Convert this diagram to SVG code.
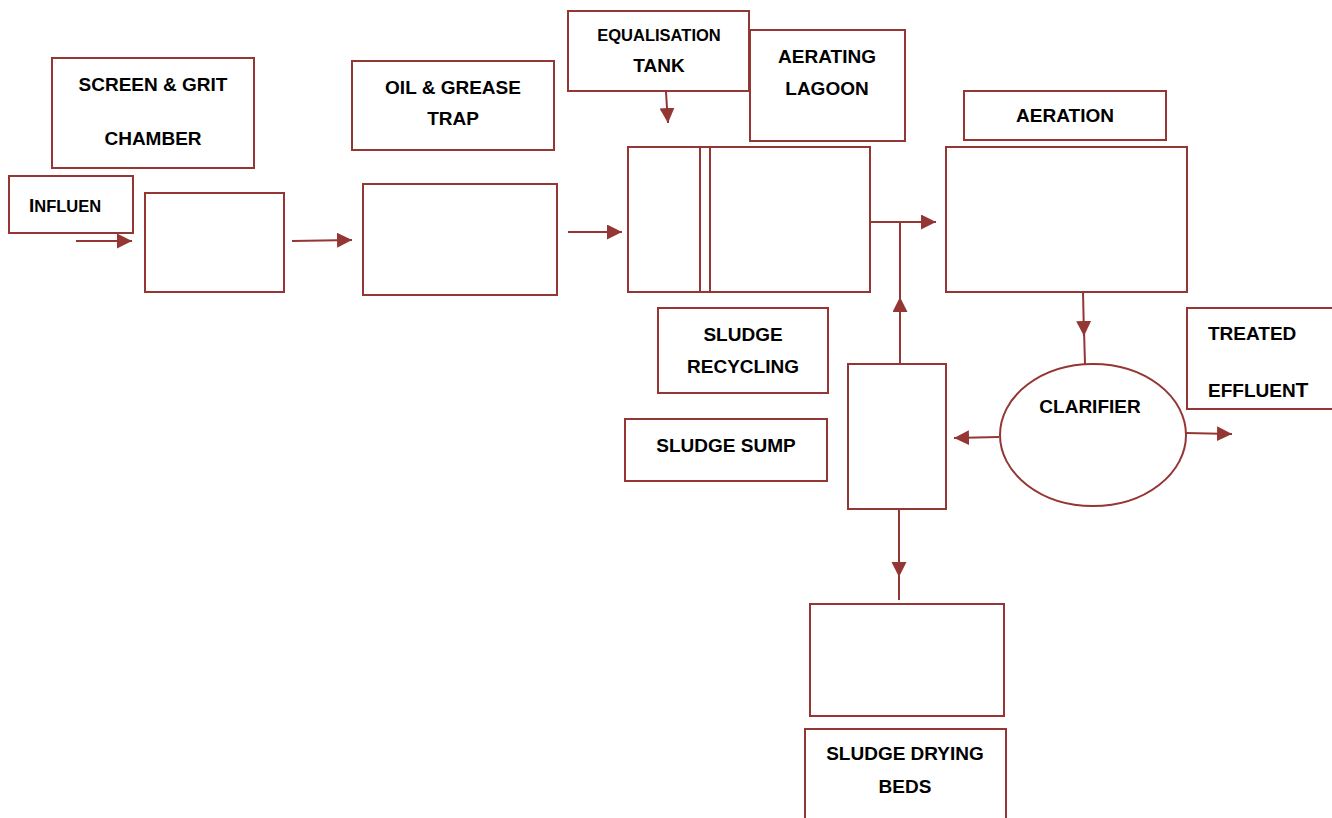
<svg xmlns="http://www.w3.org/2000/svg" width="1332" height="818" viewBox="0 0 1332 818">
<style>
.b{fill:#fff;stroke:#943634;stroke-width:2}
.l{fill:none;stroke:#943634;stroke-width:2}
.t{font-family:"Liberation Sans",Arial,sans-serif;font-weight:bold;font-size:19px;fill:#000;text-anchor:middle}
</style>
<defs>
<marker id="ah" markerWidth="18" markerHeight="18" refX="15" refY="7.5" orient="auto" markerUnits="userSpaceOnUse">
<path d="M0,0 L15,7.5 L0,15 Z" fill="#943634"/>
</marker>
</defs>
<rect width="1332" height="818" fill="#fff"/>

<g id="screen-label"><rect class="b" x="52" y="58" width="202" height="110"/><text class="t" x="153" y="91">SCREEN &amp; GRIT</text><text class="t" x="153" y="145">CHAMBER</text></g>
<g id="influent-label"><rect class="b" x="9" y="176" width="124" height="57"/><text class="t" x="29" y="212" style="text-anchor:start">I<tspan style="font-size:16.5px">NFLUEN</tspan></text></g>
<g id="screen"><rect class="b" x="145" y="193" width="139" height="99"/></g>
<g id="oil-label"><rect class="b" x="352" y="61" width="202" height="89"/><text class="t" x="453" y="94">OIL &amp; GREASE</text><text class="t" x="453" y="125">TRAP</text></g>
<g id="oil"><rect class="b" x="363" y="184" width="194" height="111"/></g>
<g id="equalisation-label"><rect class="b" x="568" y="11" width="181" height="80"/><text class="t" x="659" y="41" style="font-size:16.5px">EQUALISATION</text><text class="t" x="659" y="72">TANK</text></g>
<g id="lagoon-label"><rect class="b" x="750" y="30" width="155" height="111"/><text class="t" x="827" y="63">AERATING</text><text class="t" x="827" y="95">LAGOON</text></g>
<g id="equalisation"><rect class="b" x="628" y="147" width="242" height="145"/><line class="l" x1="700" y1="147" x2="700" y2="292"/><line class="l" x1="710" y1="147" x2="710" y2="292"/></g>
<g id="aeration-label"><rect class="b" x="964" y="91" width="202" height="49"/><text class="t" x="1065" y="122">AERATION</text></g>
<g id="aeration"><rect class="b" x="946" y="147" width="241" height="145"/></g>
<g id="recycling-label"><rect class="b" x="658" y="308" width="170" height="85"/><text class="t" x="743" y="341">SLUDGE</text><text class="t" x="743" y="373">RECYCLING</text></g>
<g id="sump-label"><rect class="b" x="625" y="419" width="202" height="62"/><text class="t" x="726" y="452">SLUDGE SUMP</text></g>
<g id="sump"><rect class="b" x="848" y="364" width="98" height="145"/></g>
<g id="clarifier"><ellipse class="b" cx="1093" cy="435" rx="93" ry="71"/><text class="t" x="1090" y="413">CLARIFIER</text></g>
<g id="effluent-label"><rect class="b" x="1187" y="308" width="150" height="101"/><text class="t" x="1208" y="340" style="text-anchor:start">TREATED</text><text class="t" x="1208" y="397" style="text-anchor:start">EFFLUEN<tspan style="font-size:21px">T</tspan></text></g>
<g id="drying"><rect class="b" x="810" y="604" width="194" height="112"/></g>
<g id="drying-label"><path class="l" d="M805,822 V729 H1006 V822"/><text class="t" x="905" y="760">SLUDGE DRYING</text><text class="t" x="905" y="793">BEDS</text></g>

<g id="connectors">
<line class="l" x1="76" y1="241" x2="132" y2="241" marker-end="url(#ah)"/>
<line class="l" x1="292" y1="241" x2="352" y2="240" marker-end="url(#ah)"/>
<line class="l" x1="568" y1="232" x2="622" y2="232" marker-end="url(#ah)"/>
<line class="l" x1="666" y1="92" x2="668" y2="123" marker-end="url(#ah)"/>
<line class="l" x1="870" y1="222" x2="936" y2="222" marker-end="url(#ah)"/>
<line class="l" x1="900" y1="364" x2="900" y2="297" marker-end="url(#ah)"/>
<line class="l" x1="900" y1="300" x2="900" y2="222"/>
<line class="l" x1="1083" y1="292" x2="1084" y2="336" marker-end="url(#ah)"/>
<line class="l" x1="1084" y1="330" x2="1085" y2="364"/>
<line class="l" x1="1186" y1="433" x2="1232" y2="434" marker-end="url(#ah)"/>
<line class="l" x1="999" y1="437" x2="954" y2="438" marker-end="url(#ah)"/>
<line class="l" x1="899" y1="509" x2="899" y2="577" marker-end="url(#ah)"/>
<line class="l" x1="899" y1="570" x2="899" y2="600"/>
</g>
</svg>
